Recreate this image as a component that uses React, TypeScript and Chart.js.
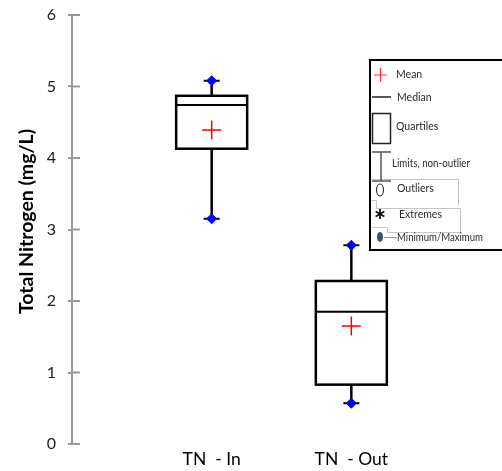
import React, { useEffect, useRef } from "react";
import { Chart, registerables } from "chart.js";

Chart.register(...registerables);

const categories = ["TN  - In", "TN  - Out"];
const minValues = [3.15, 0.57];
const q1Values = [4.13, 0.83];
const medianValues = [4.74, 1.85];
const q3Values = [4.87, 2.28];
const maxValues = [5.08, 2.78];
const meanValues = [4.39, 1.65];
const yTicks = [0, 1, 2, 3, 4, 5, 6];
const yTitle = "Total Nitrogen (mg/L)";

const AXIS_COLOR = "#999999";

const boxPlugin = {
  id: "boxPlugin",
  beforeDatasetsDraw(chart: any) {
    const { ctx, scales } = chart;
    const xs = scales.x;
    const ys = scales.y;
    const halfW = 35.5;
    ctx.save();
    ctx.strokeStyle = "#000";
    categories.forEach((_, i) => {
      const cx = xs.getPixelForValue(i + 1);
      const yMin = ys.getPixelForValue(minValues[i]);
      const yQ1 = ys.getPixelForValue(q1Values[i]);
      const yMed = ys.getPixelForValue(medianValues[i]);
      const yQ3 = ys.getPixelForValue(q3Values[i]);
      const yMax = ys.getPixelForValue(maxValues[i]);
      ctx.lineWidth = 2.5;
      ctx.beginPath();
      ctx.moveTo(cx, yQ3);
      ctx.lineTo(cx, yMax);
      ctx.moveTo(cx, yQ1);
      ctx.lineTo(cx, yMin);
      ctx.stroke();
      ctx.lineWidth = 2;
      ctx.beginPath();
      ctx.moveTo(cx - 8, yMax);
      ctx.lineTo(cx + 8, yMax);
      ctx.moveTo(cx - 8, yMin);
      ctx.lineTo(cx + 8, yMin);
      ctx.stroke();
      ctx.lineWidth = 2.5;
      ctx.strokeRect(cx - halfW, yQ3, halfW * 2, yQ1 - yQ3);
      ctx.lineWidth = 2;
      ctx.beginPath();
      ctx.moveTo(cx - halfW, yMed);
      ctx.lineTo(cx + halfW, yMed);
      ctx.stroke();
    });
    ctx.restore();
  },
  afterDraw(chart: any) {
    const { ctx, scales } = chart;
    const ys = scales.y;
    const x0 = ys.right;
    ctx.save();
    ctx.strokeStyle = AXIS_COLOR;
    ctx.lineWidth = 2;
    ctx.beginPath();
    yTicks.forEach((v) => {
      const py = ys.getPixelForValue(v);
      ctx.moveTo(x0, py);
      ctx.lineTo(x0 + 8, py);
    });
    ctx.stroke();

    // y axis title
    ctx.save();
    ctx.translate(33, 221.5);
    ctx.rotate(-Math.PI / 2);
    ctx.fillStyle = "#000";
    ctx.font = "bold 19.5px Lato";
    ctx.textAlign = "center";
    ctx.textBaseline = "alphabetic";
    ctx.fillText(yTitle, 0, 0, 217);
    ctx.restore();

    // legend
    ctx.strokeStyle = "#000";
    ctx.lineWidth = 2;
    ctx.strokeRect(370, 60, 145, 190);

    ctx.strokeStyle = "#c4c4c4";
    ctx.lineWidth = 1;
    ctx.beginPath();
    ctx.moveTo(371, 179.5);
    ctx.lineTo(458.5, 179.5);
    ctx.lineTo(458.5, 205);
    ctx.moveTo(371, 200.5);
    ctx.lineTo(376, 200.5);
    ctx.moveTo(376.5, 200.5);
    ctx.lineTo(376.5, 208.5);
    ctx.lineTo(460.5, 208.5);
    ctx.lineTo(460.5, 232.5);
    ctx.lineTo(387.5, 232.5);
    ctx.lineTo(387.5, 227.5);
    ctx.lineTo(371, 227.5);
    ctx.stroke();

    ctx.strokeStyle = "#ff3030";
    ctx.lineWidth = 1.2;
    ctx.beginPath();
    ctx.moveTo(374, 75);
    ctx.lineTo(387, 75);
    ctx.moveTo(380.5, 68);
    ctx.lineTo(380.5, 82);
    ctx.stroke();

    ctx.strokeStyle = "#222";
    ctx.lineWidth = 1.5;
    ctx.beginPath();
    ctx.moveTo(372, 97);
    ctx.lineTo(391, 97);
    ctx.stroke();

    ctx.strokeRect(372.5, 113.5, 18, 30);

    ctx.strokeStyle = "#555";
    ctx.lineWidth = 1.5;
    ctx.beginPath();
    ctx.moveTo(381, 152);
    ctx.lineTo(381, 181);
    ctx.moveTo(372, 152);
    ctx.lineTo(391, 152);
    ctx.moveTo(372, 181);
    ctx.lineTo(391, 181);
    ctx.stroke();

    ctx.strokeStyle = "#333";
    ctx.lineWidth = 1.2;
    ctx.beginPath();
    ctx.ellipse(380, 190, 3.5, 6, 0, 0, Math.PI * 2);
    ctx.stroke();

    ctx.strokeStyle = "#111";
    ctx.lineWidth = 1.8;
    ctx.beginPath();
    for (let k = 0; k < 3; k++) {
      const a = Math.PI / 2 + (k * Math.PI) / 3;
      ctx.moveTo(380 - Math.cos(a) * 5, 214 - Math.sin(a) * 5);
      ctx.lineTo(380 + Math.cos(a) * 5, 214 + Math.sin(a) * 5);
    }
    ctx.stroke();

    ctx.fillStyle = "#3e4f70";
    ctx.beginPath();
    ctx.ellipse(380, 237, 3, 5, 0, 0, Math.PI * 2);
    ctx.fill();
    ctx.strokeStyle = "#999";
    ctx.lineWidth = 1;
    ctx.beginPath();
    ctx.moveTo(384, 237.5);
    ctx.lineTo(397, 237.5);
    ctx.stroke();

    ctx.fillStyle = "#2a2a2a";
    ctx.font = "10.5px Lato";
    ctx.textBaseline = "middle";
    ctx.textAlign = "left";
    ctx.fillText("Mean", 396, 75);
    ctx.fillText("Median", 397, 98);
    ctx.fillText("Quartiles", 396, 127);
    ctx.fillText("Limits, non-outlier", 392, 164, 78);
    ctx.fillText("Outliers", 397, 189);
    ctx.fillText("Extremes", 399, 215);
    ctx.fillText("Minimum/Maximum", 397, 238, 86);
    ctx.restore();
  },
};

export default function App() {
  const ref = useRef<HTMLCanvasElement | null>(null);
  useEffect(() => {
    if (!ref.current) return;
    const chart = new Chart(ref.current, {
      type: "scatter",
      data: {
        datasets: [
          {
            label: "Mean",
            data: meanValues.map((v, i) => ({ x: i + 1, y: v })),
            pointStyle: "cross",
            pointRadius: 9.5,
            pointBorderColor: "#ff0000",
            pointBorderWidth: 1.5,
            pointBackgroundColor: "#ff0000",
          },
          {
            label: "Minimum",
            data: minValues.map((v, i) => ({ x: i + 1, y: v })),
            pointStyle: "rectRot",
            pointRadius: 5,
            pointBorderColor: "#0000ff",
            pointBackgroundColor: "#0000ff",
            pointBorderWidth: 1,
          },
          {
            label: "Maximum",
            data: maxValues.map((v, i) => ({ x: i + 1, y: v })),
            pointStyle: "rectRot",
            pointRadius: 5,
            pointBorderColor: "#0000ff",
            pointBackgroundColor: "#0000ff",
            pointBorderWidth: 1,
          },
        ],
      },
      options: {
        animation: false,
        responsive: false,
        layout: { padding: { top: 15, right: 8, left: 0, bottom: 0 } },
        plugins: { legend: { display: false }, tooltip: { enabled: false } },
        scales: {
          x: {
            type: "linear",
            min: 0,
            max: 3,
            border: { display: false },
            grid: { display: false, drawTicks: false },
            afterBuildTicks: (scale: any) => {
              scale.ticks = categories.map((_, i) => ({ value: i + 1 }));
            },
            afterFit: (scale: any) => {
              scale.height = 27;
              scale.paddingLeft = 0;
              scale.paddingRight = 0;
            },
            ticks: {
              padding: 5,
              color: "#000",
              font: { family: "Lato", size: 17.5 },
              callback: (value: any) => categories[Number(value) - 1] ?? "",
            },
          },
          y: {
            min: 0,
            max: 6,
            border: { display: true, color: AXIS_COLOR, width: 2 },
            grid: {
              drawOnChartArea: false,
              drawTicks: true,
              tickLength: 4,
              color: AXIS_COLOR,
              lineWidth: 2,
            },
            afterBuildTicks: (scale: any) => {
              scale.ticks = yTicks.map((v) => ({ value: v }));
            },
            afterFit: (scale: any) => {
              scale.width = 72;
              scale.paddingTop = 0;
              scale.paddingBottom = 0;
            },
            ticks: {
              padding: 12,
              color: "#222",
              font: { family: "Lato", size: 16 },
            },
          },
        },
      },
      plugins: [boxPlugin],
    });
    return () => chart.destroy();
  }, []);
  return (
    <div style={{ position: "absolute", left: 0, top: 0, width: 502, height: 471 }}>
      <canvas ref={ref} width={502} height={471} style={{ display: "block" }} />
    </div>
  );
}
